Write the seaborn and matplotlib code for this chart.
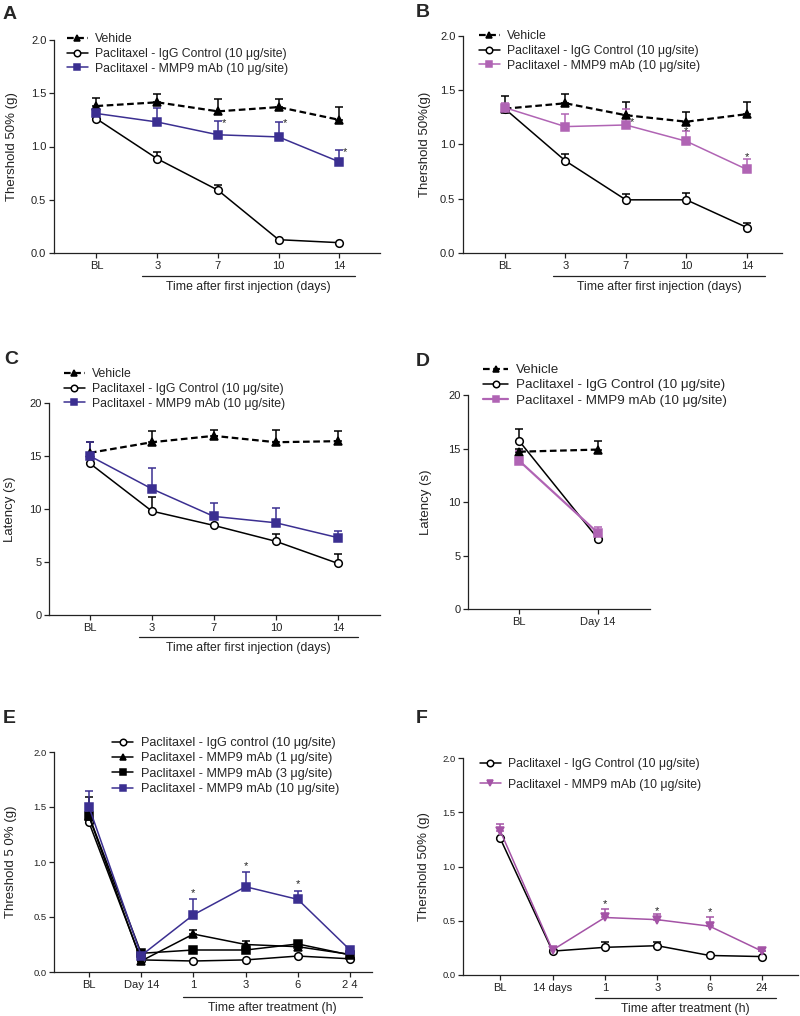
import numpy as np
import matplotlib
matplotlib.use("Agg")
import matplotlib.pyplot as plt
import matplotlib.transforms as mtransforms
import seaborn as sns

sns.set_theme(style="ticks")
plt.rcParams['font.family'] = ['Liberation Sans', 'DejaVu Sans']

# ===== Data =====
days_labels = ["BL", "3", "7", "10", "14"]
d_labels = ["BL", "Day 14"]
e_labels = ["BL", "Day 14", "1", "3", "6", "2 4"]
f_labels = ["BL", "14 days", "1", "3", "6", "24"]

# A - threshold
a_vehicle = [1.38, 1.415, 1.33, 1.37, 1.25]
a_vehicle_err = [0.08, 0.075, 0.12, 0.08, 0.12]
a_igg = [1.26, 0.885, 0.59, 0.125, 0.097]
a_igg_err = [0.0, 0.065, 0.05, 0.0, 0.0]
a_mmp9 = [1.31, 1.23, 1.11, 1.09, 0.856]
a_mmp9_err = [0.04, 0.13, 0.13, 0.14, 0.115]

# B - threshold
b_vehicle = [1.33, 1.38, 1.27, 1.21, 1.28]
b_vehicle_err = [0.12, 0.09, 0.12, 0.09, 0.11]
b_igg = [1.33, 0.85, 0.49, 0.49, 0.235]
b_igg_err = [0.0, 0.06, 0.05, 0.06, 0.04]
b_mmp9 = [1.34, 1.165, 1.18, 1.03, 0.77]
b_mmp9_err = [0.04, 0.115, 0.15, 0.09, 0.10]

# C - latency
c_vehicle = [15.3, 16.3, 16.9, 16.3, 16.4]
c_vehicle_err = [1.0, 1.1, 0.6, 1.2, 1.0]
c_igg = [14.3, 9.8, 8.45, 6.95, 4.87]
c_igg_err = [0.0, 1.3, 0.0, 0.65, 0.85]
c_mmp9 = [15.0, 11.9, 9.3, 8.7, 7.3]
c_mmp9_err = [1.3, 2.0, 1.3, 1.4, 0.6]

# D - latency
d_vehicle = [14.7, 14.9]
d_vehicle_err = [0.3, 0.8]
d_igg = [15.7, 6.56]
d_igg_err = [1.15, 0.0]
d_mmp9 = [13.85, 7.1]
d_mmp9_err = [0.9, 0.55]

# E - dose response
e_igg = [1.36, 0.11, 0.10, 0.11, 0.145, 0.12]
e_mmp9_1 = [1.415, 0.10, 0.345, 0.25, 0.23, 0.16]
e_mmp9_1_err = [0.175, 0.0, 0.035, 0.035, 0.0, 0.0]
e_mmp9_3 = [1.42, 0.17, 0.20, 0.20, 0.255, 0.155]
e_mmp9_10 = [1.50, 0.15, 0.52, 0.775, 0.66, 0.20]
e_mmp9_10_err = [0.15, 0.0, 0.14, 0.13, 0.08, 0.0]

# F - time course
f_igg = [1.26, 0.22, 0.255, 0.27, 0.18, 0.17]
f_igg_err = [0.0, 0.0, 0.045, 0.035, 0.0, 0.0]
f_mmp9 = [1.33, 0.23, 0.53, 0.51, 0.45, 0.22]
f_mmp9_err = [0.065, 0.0, 0.075, 0.055, 0.085, 0.0]

BLUE = "#3b2f91"
PURPLE = "#b064b4"
PURPLE_F = "#a453a6"

W, H = 800, 1016
fig = plt.figure(figsize=(W / 100, H / 100), dpi=100)


def px_axes(l, r, t, b):
    return fig.add_axes([l / W, 1 - b / H, (r - l) / W, (b - t) / H])


def series(ax, x, y, err, color, marker, label, dashed=False, mfc=None, ms=5.5, lw=1.1):
    sns.lineplot(x=x, y=y, ax=ax, color=color, marker=marker, markersize=ms,
                 markerfacecolor=mfc if mfc is not None else color,
                 markeredgecolor=color, markeredgewidth=1.1,
                 linewidth=1.6 if dashed else lw,
                 dashes=False, label=label, zorder=3)
    if dashed:
        ax.lines[-1].set_linestyle((0, (3, 1.6)))
    if err is not None:
        e = np.array(err)
        ax.errorbar(x, y, yerr=[np.zeros_like(e), e], fmt='none', ecolor=color,
                    elinewidth=1.1, capsize=3, capthick=1.1, zorder=2)


def style_axes(ax, labels, xlim, ylim, yticks, yfmt, ylabel, ylab_x, ysize=8):
    ax.set_xticks(range(len(labels)))
    ax.set_xticklabels(labels)
    ax.set_xlim(*xlim)
    ax.set_ylim(*ylim)
    ax.set_yticks(yticks)
    ax.set_yticklabels([yfmt.format(v) for v in yticks])
    ax.tick_params(axis='both', direction='out', length=3.5, width=0.9,
                   color='#222222', labelcolor='#222222', pad=2)
    ax.tick_params(axis='x', labelsize=8)
    ax.tick_params(axis='y', labelsize=ysize)
    for s in ['top', 'right']:
        ax.spines[s].set_visible(False)
    for s in ['left', 'bottom']:
        ax.spines[s].set_linewidth(0.9)
        ax.spines[s].set_color('#222222')
    ax.set_xlabel("")
    ax.set_ylabel(ylabel, fontsize=9.5, color='#222222')
    ax.yaxis.set_label_coords(ylab_x, 0.5)


def leg(ax, left, top, spacing=0.23, fs=8.8, hl=1.7):
    ax.legend(loc='upper left', bbox_to_anchor=(left / W, 1 - top / H),
              bbox_transform=fig.transFigure, frameon=False, fontsize=fs,
              borderpad=0, borderaxespad=0, handlelength=hl, handletextpad=0.6,
              labelspacing=spacing, markerscale=0.85)


def underline(ax, x0, x1, below_px, text):
    h = ax.get_position().height * H
    trans = mtransforms.blended_transform_factory(ax.transData, ax.transAxes)
    yf = -below_px / h
    ax.plot([x0, x1], [yf, yf], transform=trans, color='#222222', lw=0.9, clip_on=False)
    ax.text((x0 + x1) / 2, yf - 5 / h, text, transform=trans, ha='center', va='top',
            fontsize=8.8, color='#222222')


def star(ax, x, y):
    ax.text(x, y, "*", ha='center', va='center', fontsize=8, color='#222222')


veh = "Vehicle"
igg = "Paclitaxel - IgG Control (10 μg/site)"
mmp = "Paclitaxel - MMP9 mAb (10 μg/site)"

# ===== Panel A =====
ax = px_axes(54, 380, 40, 253)
x5 = np.arange(5)
series(ax, x5, a_vehicle, a_vehicle_err, 'black', '^', "Vehide", dashed=True)
series(ax, x5, a_igg, a_igg_err, 'black', 'o', igg, mfc='white')
series(ax, x5, a_mmp9, a_mmp9_err, BLUE, 's', mmp)
style_axes(ax, days_labels, (-0.70, 4.67), (0, 2.0), [0, 0.5, 1.0, 1.5, 2.0], "{:.1f}",
           "Thershold 50% (g)", -0.11)
underline(ax, 0.75, 4.26, 23, "Time after first injection (days)")
star(ax, 2.1, 1.22)
star(ax, 3.1, 1.22)
star(ax, 4.1, 0.95)
leg(ax, 67, 33)

# ===== Panel B =====
ax = px_axes(463, 782, 36, 253)
series(ax, x5, b_vehicle, b_vehicle_err, 'black', '^', veh, dashed=True)
series(ax, x5, b_igg, b_igg_err, 'black', 'o', igg, mfc='white')
series(ax, x5, b_mmp9, b_mmp9_err, PURPLE, 's', mmp)
style_axes(ax, days_labels, (-0.69, 4.58), (0, 2.0), [0, 0.5, 1.0, 1.5, 2.0], "{:.1f}",
           "Thershold 50%(g)", -0.10)
underline(ax, 0.79, 4.30, 23, "Time after first injection (days)")
star(ax, 2.1, 1.21)
star(ax, 3.0, 1.12)
star(ax, 4.0, 0.88)
leg(ax, 479, 30)

# ===== Panel C =====
ax = px_axes(49, 380, 403, 615)
series(ax, x5, c_vehicle, c_vehicle_err, 'black', '^', veh, dashed=True)
series(ax, x5, c_igg, c_igg_err, 'black', 'o', igg, mfc='white')
series(ax, x5, c_mmp9, c_mmp9_err, BLUE, 's', mmp)
style_axes(ax, days_labels, (-0.66, 4.68), (0, 20), [0, 5, 10, 15, 20], "{:d}",
           "Latency (s)", -0.10)
underline(ax, 0.80, 4.32, 22, "Time after first injection (days)")
leg(ax, 64, 368)

# ===== Panel D =====
ax = px_axes(468, 650, 395, 609)
x2 = np.arange(2)
series(ax, x2, d_vehicle, d_vehicle_err, 'black', '^', veh, dashed=True)
series(ax, x2, d_igg, d_igg_err, 'black', 'o', igg, mfc='white')
series(ax, x2, d_mmp9, d_mmp9_err, PURPLE, 's', mmp, lw=1.6)
style_axes(ax, d_labels, (-0.65, 1.66), (0, 20), [0, 5, 10, 15, 20], "{:d}",
           "Latency (s)", -0.20)
leg(ax, 483, 364, spacing=0.21, fs=9.6, hl=1.9)

# ===== Panel E =====
ax = px_axes(54, 372, 752, 972)
x6 = np.arange(6)
series(ax, x6, e_igg, None, 'black', 'o', "Paclitaxel - IgG control (10 μg/site)", mfc='white')
series(ax, x6, e_mmp9_1, e_mmp9_1_err, 'black', '^', "Paclitaxel - MMP9 mAb (1 μg/site)")
series(ax, x6, e_mmp9_3, None, 'black', 's', "Paclitaxel - MMP9 mAb (3 μg/site)")
series(ax, x6, e_mmp9_10, e_mmp9_10_err, BLUE, 's', "Paclitaxel - MMP9 mAb (10 μg/site)")
style_axes(ax, e_labels, (-0.67, 5.42), (0, 2.0), [0, 0.5, 1.0, 1.5, 2.0], "{:.1f}",
           "Threshold 5 0% (g)", -0.115, ysize=6.8)
underline(ax, 1.80, 5.23, 25, "Time after treatment (h)")
star(ax, 2, 0.72)
star(ax, 3, 0.96)
star(ax, 4, 0.80)
leg(ax, 112, 737, spacing=0.27, fs=9.1)

# ===== Panel F =====
ax = px_axes(463, 798, 758, 975)
series(ax, x6, f_igg, f_igg_err, 'black', 'o', igg, mfc='white')
series(ax, x6, f_mmp9, f_mmp9_err, PURPLE_F, 'v', mmp)
style_axes(ax, f_labels, (-0.71, 5.69), (0, 2.0), [0, 0.5, 1.0, 1.5, 2.0], "{:.1f}",
           "Thershold 50% (g)", -0.10, ysize=6.8)
underline(ax, 1.81, 5.27, 23, "Time after treatment (h)")
star(ax, 2, 0.65)
star(ax, 3, 0.59)
star(ax, 4, 0.58)
leg(ax, 480, 758, spacing=0.7)

# ===== Panel letters =====
for lab, x, y in [("A", 3, 6), ("B", 416, 4), ("C", 4, 351), ("D", 416, 353),
                  ("E", 3, 710), ("F", 416, 710)]:
    fig.text(x / W, 1 - y / H, lab, fontsize=14, fontweight='bold', va='top', ha='left')

fig.savefig("out.png", dpi=100)
